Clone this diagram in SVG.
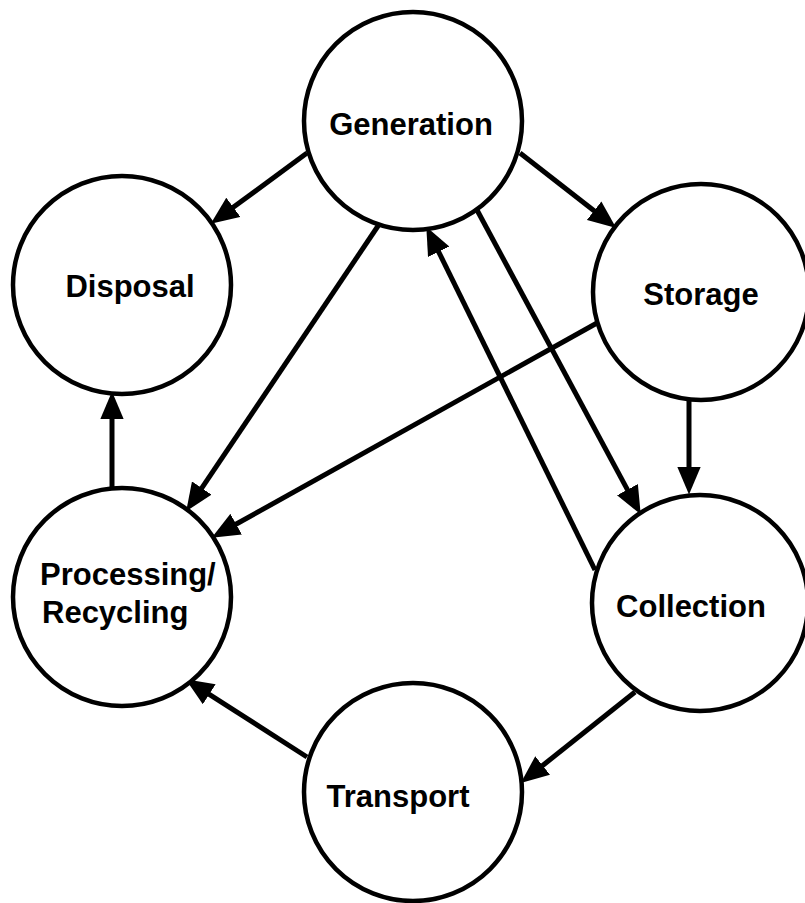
<svg xmlns="http://www.w3.org/2000/svg" width="805" height="903" viewBox="0 0 805 903">
<style>
.node{fill:#fff;stroke:#000;stroke-width:4.5}
.lbl{font-family:"Liberation Sans",Arial,sans-serif;font-weight:bold;font-size:31px;fill:#000}
.edge{stroke:#000;stroke-width:5;fill:none;marker-end:url(#ah)}
</style>
<defs>
<marker id="ah" markerUnits="userSpaceOnUse" markerWidth="28" markerHeight="24" viewBox="0 0 26 22" refX="6" refY="11" orient="auto">
<path d="M0,0 L26,11 L0,22 Z" fill="#000"/>
</marker>
</defs>
<rect width="805" height="903" fill="#fff"/>
<g id="connectors">
<line class="edge" x1="307" y1="153" x2="228.1" y2="211.1"/>
<line class="edge" x1="520" y1="153" x2="599.2" y2="214.7"/>
<line class="edge" x1="380" y1="223" x2="198.2" y2="493.4"/>
<line class="edge" x1="477" y1="210" x2="630.5" y2="495.4"/>
<line class="edge" x1="595" y1="570" x2="435.8" y2="246"/>
<line class="edge" x1="597" y1="323" x2="230.5" y2="527.3"/>
<line class="edge" x1="689" y1="400" x2="689" y2="473"/>
<line class="edge" x1="635" y1="692" x2="537.6" y2="769.5"/>
<line class="edge" x1="307" y1="757" x2="203.8" y2="690.8"/>
<line class="edge" x1="112" y1="488" x2="112" y2="413"/>
</g>
<g id="generation">
<circle class="node" cx="413" cy="121" r="109"/>
<text class="lbl" x="411" y="135" text-anchor="middle">Generation</text>
</g>
<g id="disposal">
<circle class="node" cx="122" cy="285" r="109"/>
<text class="lbl" x="130" y="297" text-anchor="middle">Disposal</text>
</g>
<g id="storage">
<circle class="node" cx="701" cy="292" r="108"/>
<text class="lbl" x="701" y="305" text-anchor="middle">Storage</text>
</g>
<g id="processing">
<circle class="node" cx="122" cy="597" r="109"/>
<text class="lbl" x="40" y="585">Processing/</text>
<text class="lbl" x="42" y="623">Recycling</text>
</g>
<g id="collection">
<circle class="node" cx="700" cy="603" r="108"/>
<text class="lbl" x="691" y="617" text-anchor="middle">Collection</text>
</g>
<g id="transport">
<circle class="node" cx="413" cy="792" r="109"/>
<text class="lbl" x="398" y="807" text-anchor="middle">Transport</text>
</g>
</svg>
